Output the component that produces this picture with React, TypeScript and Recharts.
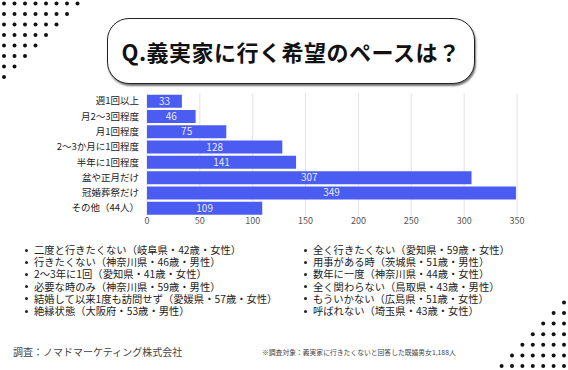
import { BarChart, Bar, XAxis, YAxis, CartesianGrid, LabelList } from "recharts";

const categories = [
  "週1回以上",
  "月2～3回程度",
  "月1回程度",
  "2～3か月に1回程度",
  "半年に1回程度",
  "盆や正月だけ",
  "冠婚葬祭だけ",
  "その他（44人）"
];
const counts = [33, 46, 75, 128, 141, 307, 349, 109];
const xTicks = [0, 50, 100, 150, 200, 250, 300, 350];

const leftComments = [
  "二度と行きたくない（岐阜県・42歳・女性）",
  "行きたくない（神奈川県・46歳・男性）",
  "2〜3年に1回（愛知県・41歳・女性）",
  "必要な時のみ（神奈川県・59歳・男性）",
  "結婚して以来1度も訪問せず（愛媛県・57歳・女性）",
  "絶縁状態（大阪府・53歳・男性）"
];
const rightComments = [
  "全く行きたくない（愛知県・59歳・女性）",
  "用事がある時（茨城県・51歳・男性）",
  "数年に一度（神奈川県・44歳・女性）",
  "全く関わらない（鳥取県・43歳・男性）",
  "もういかない（広島県・51歳・女性）",
  "呼ばれない（埼玉県・43歳・女性）"
];

const data = categories.map((name, i) => ({ name, value: counts[i] }));

const jp = '"Noto Sans CJK JP", "Noto Sans", sans-serif';

function Dots() {
  const dots: { x: number; y: number }[] = [];
  // top-left triangle
  for (let j = 0; j < 8; j++) {
    for (let i = 0; i < 8 - j; i++) {
      dots.push({ x: 4 + 10.5 * i, y: 3.5 + 10.5 * j });
    }
  }
  // bottom-right triangle
  for (let r = 0; r < 7; r++) {
    for (let i = 0; i < 7 - r; i++) {
      dots.push({ x: 564 - 10.4 * i, y: 366 - 10.6 * r });
    }
  }
  return (
    <svg width={568} height={370} style={{ position: "absolute", left: 0, top: 0 }}>
      {dots.map((d, k) => (
        <circle key={k} cx={d.x} cy={d.y} r={2} fill="#111" />
      ))}
    </svg>
  );
}

function CommentList({ items, left }: { items: string[]; left: number }) {
  return (
    <div style={{ position: "absolute", left, top: 244 }}>
      {items.map((t) => (
        <div
          key={t}
          style={{
            height: 12.2,
            lineHeight: "12.2px",
            fontSize: 10.3,
            color: "#222",
            whiteSpace: "nowrap",
            display: "flex",
            alignItems: "center"
          }}
        >
          <span
            style={{
              display: "inline-block",
              width: 3,
              height: 3,
              borderRadius: 1.5,
              background: "#222",
              marginRight: 6
            }}
          />
          {t}
        </div>
      ))}
    </div>
  );
}

export default function App() {
  return (
    <div
      style={{
        position: "absolute",
        left: 0,
        top: 0,
        width: 568,
        height: 370,
        background: "#fff",
        overflow: "hidden",
        fontFamily: jp
      }}
    >
      <Dots />

      <div
        style={{
          position: "absolute",
          left: 107,
          top: 18,
          width: 366,
          height: 64,
          border: "1.5px solid #222",
          borderRadius: 22,
          boxShadow: "1px 2px 2px rgba(0,0,0,0.55)",
          background: "#fff",
          display: "flex",
          alignItems: "center",
          justifyContent: "center"
        }}
      >
        <span style={{ fontSize: 22, fontWeight: 600, color: "#111", letterSpacing: 0.5 }}>
          Q.義実家に行く希望のペースは？
        </span>
      </div>

      <div style={{ position: "absolute", left: 0, top: 80 }}>
        <BarChart
          width={568}
          height={160}
          data={data}
          layout="vertical"
          margin={{ top: 13.4, right: 51, left: 0, bottom: 2.4 }}
          barCategoryGap="9%"
        >
          <CartesianGrid horizontal={false} stroke="#e2e2e2" />
          <XAxis
            type="number"
            domain={[0, 350]}
            ticks={xTicks}
            axisLine={false}
            tickLine={false}
            tickSize={2}
            tickMargin={0}
            height={22}
            tick={{ fontSize: 9, fill: "#555", fontFamily: jp }}
          />
          <YAxis
            type="category"
            dataKey="name"
            width={147}
            axisLine={false}
            tickLine={false}
            interval={0}
            tick={{ fontSize: 9.5, fill: "#222", fontFamily: jp }}
          />
          <Bar dataKey="value" fill="#4a5cf2" isAnimationActive={false}>
            <LabelList
              dataKey="value"
              position="center"
              fill="#e8ebff"
              style={{ fontSize: 10, fontFamily: jp }}
            />
          </Bar>
        </BarChart>
      </div>

      <CommentList items={leftComments} left={25} />
      <CommentList items={rightComments} left={304} />

      <div
        style={{
          position: "absolute",
          left: 13,
          top: 344,
          fontSize: 10,
          color: "#444",
          whiteSpace: "nowrap"
        }}
      >
        調査：ノマドマーケティング株式会社
      </div>
      <div
        style={{
          position: "absolute",
          left: 262,
          top: 347,
          fontSize: 6.8,
          color: "#444",
          whiteSpace: "nowrap"
        }}
      >
        ※調査対象：義実家に行きたくないと回答した既婚男女1,188人
      </div>
    </div>
  );
}
